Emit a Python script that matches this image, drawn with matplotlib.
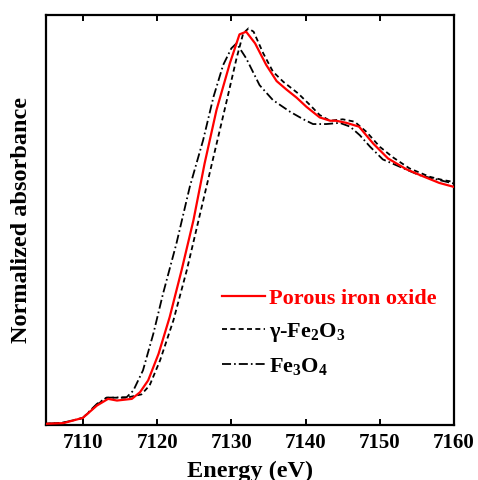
import matplotlib
matplotlib.use("Agg")
import matplotlib.pyplot as plt

plt.rcParams['font.family'] = ['Liberation Serif', 'DejaVu Serif']
plt.rcParams['font.weight'] = 'bold'
plt.rcParams['mathtext.fontset'] = 'custom'
plt.rcParams['mathtext.bf'] = 'Liberation Serif:bold'
plt.rcParams['mathtext.rm'] = 'Liberation Serif:bold'
plt.rcParams['mathtext.default'] = 'bf'
plt.rcParams['lines.scale_dashes'] = False

# Fe K-edge XANES, normalized absorbance vs energy (eV)
porous_e = [7105.0, 7107.4, 7110.0, 7111.9, 7113.4, 7114.6, 7116.6, 7117.7, 7118.8,
            7120.2, 7121.7, 7123.3, 7124.9, 7126.4, 7128.0, 7129.8, 7131.1, 7132.0,
            7133.2, 7134.7, 7136.1, 7137.4, 7138.8, 7140.1, 7141.9, 7143.3, 7144.1,
            7145.5, 7147.2, 7149.1, 7151.1, 7153.6, 7155.8, 7158.0, 7160.0]
porous_mu = [0.003, 0.006, 0.028, 0.080, 0.108, 0.101, 0.108, 0.136, 0.186,
             0.298, 0.453, 0.650, 0.861, 1.100, 1.325, 1.522, 1.644, 1.655,
             1.606, 1.515, 1.447, 1.412, 1.377, 1.339, 1.294, 1.280, 1.280,
             1.271, 1.255, 1.184, 1.121, 1.075, 1.046, 1.018, 1.001]

gfe2o3_e = [7105.0, 7107.4, 7110.0, 7111.9, 7113.2, 7115.9, 7117.9, 7119.0, 7120.4,
            7122.2, 7124.0, 7125.8, 7127.6, 7129.4, 7130.7, 7131.6, 7132.3, 7133.0,
            7134.3, 7135.6, 7137.0, 7139.0, 7140.6, 7141.9, 7143.3, 7145.0, 7146.6,
            7148.2, 7150.0, 7151.8, 7154.0, 7156.7, 7158.5, 7160.0]
gfe2o3_mu = [0.003, 0.008, 0.027, 0.083, 0.113, 0.113, 0.127, 0.165, 0.270,
             0.439, 0.650, 0.889, 1.128, 1.367, 1.543, 1.648, 1.669, 1.655,
             1.564, 1.487, 1.444, 1.395, 1.346, 1.304, 1.280, 1.286, 1.276,
             1.233, 1.170, 1.125, 1.079, 1.044, 1.030, 1.022]

fe3o4_e = [7105.0, 7107.4, 7110.0, 7111.9, 7113.2, 7115.9, 7116.8, 7118.1, 7119.5,
           7120.8, 7122.6, 7124.4, 7126.2, 7127.6, 7128.9, 7130.0, 7130.7, 7132.0,
           7133.8, 7135.6, 7137.9, 7139.7, 7141.0, 7142.8, 7144.6, 7146.0, 7147.3,
           7148.7, 7150.4, 7152.7, 7155.3, 7158.0, 7160.0]
fe3o4_mu = [0.003, 0.008, 0.028, 0.087, 0.113, 0.115, 0.143, 0.228, 0.383,
            0.551, 0.762, 1.001, 1.198, 1.381, 1.515, 1.585, 1.606, 1.543,
            1.430, 1.367, 1.318, 1.286, 1.266, 1.266, 1.271, 1.255, 1.219,
            1.170, 1.117, 1.086, 1.051, 1.030, 1.015]

fig = plt.figure(figsize=(4.78, 4.80), dpi=100)
ax = fig.add_axes([0.0956, 0.1156, 0.8544, 0.8534])

ax.plot(porous_e, porous_mu, color='red', lw=1.6, label='Porous iron oxide', zorder=3)
ax.plot(gfe2o3_e, gfe2o3_mu, color='black', lw=1.3, dashes=(3.6, 2.4),
        label=r'γ-Fe$_2$O$_3$')
ax.plot(fe3o4_e, fe3o4_mu, color='black', lw=1.3, dashes=(6.5, 2.2, 1.2, 2.2),
        label=r'Fe$_3$O$_4$')

ax.set_xlim(7105, 7160)
ax.set_ylim(0, 1.726)
ax.set_xticks([7110, 7120, 7130, 7140, 7150, 7160])
ax.set_yticks([])
ax.tick_params(axis='x', direction='in', top=True, length=4, width=1.4,
               labelsize=15, pad=6)
for lbl in ax.get_xticklabels():
    lbl.set_fontweight('bold')
for sp in ax.spines.values():
    sp.set_linewidth(1.6)

ax.set_xlabel('Energy (eV)', fontsize=17.5, fontweight='bold', labelpad=6)
ax.set_ylabel('Normalized absorbance', fontsize=17.5, fontweight='bold', labelpad=10)

leg = ax.legend(loc='upper left', bbox_to_anchor=(0.41, 0.355), frameon=False,
                fontsize=16, handlelength=1.95, handletextpad=0.15,
                labelspacing=0.55, borderaxespad=0)
leg.get_texts()[0].set_color('red')

fig.savefig('out.png', dpi=100)
